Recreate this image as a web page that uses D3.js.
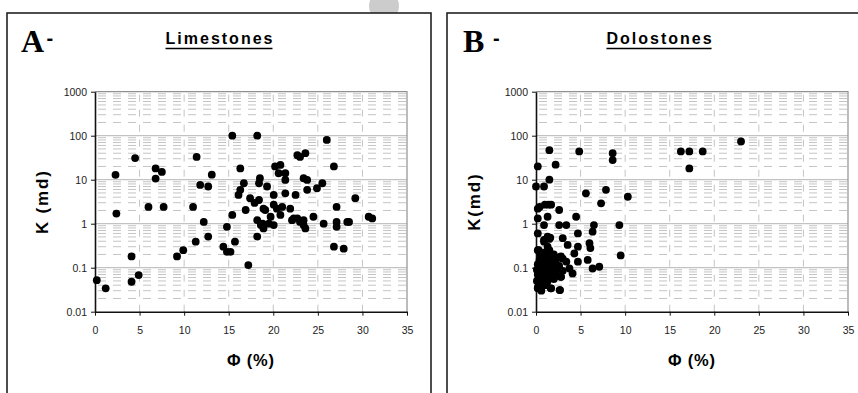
<!DOCTYPE html>
<html>
<head>
<meta charset="utf-8">
<script src="https://cdn.jsdelivr.net/npm/d3@7"></script>
<style>
  body { margin: 0; background: #fff; }
  svg { display: block; }
</style>
</head>
<body>
<div id="chart"></div>
<script>
// Limestones: porosity (%) and permeability (md)
const limestonePhi = [0.2, 1.2, 2.3, 2.4, 4.1, 4.1, 4.5, 4.9, 6.0, 6.8, 6.8, 7.5, 7.7, 9.2, 9.9,
  11.0, 11.3, 11.4, 11.8, 12.2, 12.7, 12.7, 13.1, 14.4, 14.8, 14.8, 15.2, 15.4, 15.4, 15.7,
  16.1, 16.3, 16.3, 16.7, 16.9, 17.2, 17.4, 17.9, 18.2, 18.2, 18.2, 18.4, 18.4, 18.5, 18.6,
  18.8, 18.9, 18.9, 19.1, 19.3, 19.5, 19.7, 20.05, 20.05, 20.05, 20.2, 20.4, 20.6, 20.8, 20.8,
  21.0, 21.35, 21.35, 21.35, 21.9, 22.1, 22.3, 22.5, 22.7, 22.7, 23.0, 23.0, 23.4, 23.4, 23.4,
  23.6, 23.6, 23.8, 23.8, 24.5, 24.9, 25.5, 25.65, 26.0, 26.8, 26.8, 27.1, 27.1, 27.1, 27.9,
  28.3, 28.5, 29.2, 30.7, 31.1];
const limestoneK = [0.052, 0.034, 12.9, 1.7, 0.18, 0.048, 31, 0.068, 2.4, 18, 10.6, 15, 2.4, 0.18, 0.25,
  2.4, 0.39, 33, 7.6, 1.1, 7, 0.51, 13, 0.3, 0.85, 0.23, 0.23, 100, 1.58, 0.39,
  4.5, 5.9, 18, 8.3, 2.05, 0.115, 3.8, 2.96, 100, 0.51, 1.2, 3.46, 8.3, 10.8, 0.93,
  1.0, 2.2, 0.78, 2.05, 7, 1.0, 1.44, 4.5, 2.7, 0.93, 20, 2.2, 14, 21.7, 1.58,
  2.4, 14, 9.9, 4.9, 2.2, 1.2, 1.32, 4.5, 36, 1.32, 33, 1.1, 1.2, 0.93, 10.8,
  40, 0.78, 9.9, 5.9, 1.44, 6.4, 8.3, 1.0, 80, 20, 0.3, 2.4, 1.1, 0.85, 0.27,
  1.1, 1.1, 3.8, 1.44, 1.32];

// Dolostones: porosity (%) and permeability (md)
const dolostonePhi = [0.2, 0.0, 0.9, 1.5, 2.2, 1.5, 4.85, 5.6, 8.6, 8.6, 7.85, 7.3, 10.3, 16.25, 17.2,
  18.7, 17.2, 23.0, 0.2, 0.4, 1.0, 1.4, 1.7, 2.6, 0.2, 1.3, 0.9, 2.6, 3.4, 4.5,
  6.5, 9.35, 0.2, 4.7, 6.35, 1.3, 1.6, 3.0, 0.9, 1.5, 3.55, 4.7, 6.0, 6.1, 4.3,
  0.2, 9.5, 5.8, 6.35, 7.1, 3.75, 4.1, 4.7, 3.0, 3.4, 2.8, 2.65, 1.65, 2.8, 0.2,
  1.3, 0.9, 0.1, 0.2, 0.1, 0.2, 0.3, 0.3, 0.4, 0.4, 0.4, 0.5, 0.5, 0.5, 0.6,
  0.6, 0.6, 0.7, 0.7, 0.8, 0.8, 0.8, 0.9, 0.9, 0.9, 1.0, 1.0, 1.1, 1.1, 1.2,
  1.2, 1.3, 1.3, 1.4, 1.5, 1.5, 1.6, 1.6, 1.7, 1.8, 1.8, 1.9, 2.0, 2.1, 2.2,
  2.3, 2.5, 2.5, 2.6, 2.7, 2.8, 3.0, 0.3, 0.8, 1.5, 0.2, 1.0, 2.0, 1.2, 0.6];
const dolostoneK = [20, 7, 7, 47, 22, 10, 44, 4.9, 40, 28, 5.9, 2.9, 4.1, 44, 44,
  44, 18, 74, 2.2, 2.4, 2.7, 2.7, 2.7, 2.05, 1.32, 1.44, 0.93, 0.93, 0.93, 1.44,
  0.93, 0.93, 0.6, 0.6, 0.66, 0.51, 0.48, 0.47, 0.43, 0.45, 0.33, 0.3, 0.36, 0.28, 0.21,
  0.25, 0.19, 0.15, 0.096, 0.105, 0.096, 0.074, 0.137, 0.16, 0.137, 0.18, 0.031, 0.034, 0.062, 0.034,
  0.3, 0.39, 0.05, 0.07, 0.09, 0.12, 0.04, 0.06, 0.08, 0.1, 0.15, 0.035, 0.055, 0.2, 0.07,
  0.11, 0.13, 0.045, 0.09, 0.06, 0.12, 0.16, 0.05, 0.08, 0.1, 0.04, 0.14, 0.065, 0.09, 0.11,
  0.18, 0.05, 0.075, 0.13, 0.1, 0.06, 0.085, 0.15, 0.034, 0.07, 0.12, 0.1, 0.055, 0.08, 0.14,
  0.095, 0.065, 0.17, 0.11, 0.031, 0.062, 0.085, 0.25, 0.22, 0.25, 0.035, 0.18, 0.2, 0.045, 0.03];

const xTicks = [0, 5, 10, 15, 20, 25, 30, 35];
const yTicks = [0.01, 0.1, 1, 10, 100, 1000];
const yTickLabels = ['0.01', '0.1', '1', '10', '100', '1000'];

const panels = [
  {letter: 'A', title: 'Limestones', yTitle: 'K (md)', phi: limestonePhi, k: limestoneK,
   frame: {x: 7, y: 13, w: 424}, plot: {left: 95, right: 407}, letterX: 21, dashX: 46.5, titleX: 220, yTitleX: 48},
  {letter: 'B', title: 'Dolostones', yTitle: 'K(md)', phi: dolostonePhi, k: dolostoneK,
   frame: {x: 447, y: 13, w: 430}, plot: {left: 536, right: 848}, letterX: 463, dashX: 493, titleX: 660, yTitleX: 480}
];

const plotTop = 91.7, plotBottom = 311.7;

const svg = d3.select('#chart').append('svg')
  .attr('width', 858)
  .attr('height', 393);

// faint grey blot behind the first frame
svg.append('circle')
  .attr('cx', 384).attr('cy', 6).attr('r', 15)
  .attr('fill', '#cccccc');

panels.forEach(function(p) {
  const g = svg.append('g');

  // frame
  g.append('rect')
    .attr('x', p.frame.x).attr('y', p.frame.y)
    .attr('width', p.frame.w).attr('height', 400)
    .attr('fill', '#fff')
    .attr('stroke', '#222')
    .attr('stroke-width', 1.6);

  const x = d3.scaleLinear().domain([0, 35]).range([p.plot.left, p.plot.right]);
  const y = d3.scaleLog().domain([0.01, 1000]).range([plotBottom, plotTop]);

  // minor horizontal grid (2..9 in each decade)
  const minor = [];
  yTicks.slice(0, -1).forEach(function(d) {
    for (let m = 2; m <= 9; m++) minor.push(d * m);
  });
  g.append('g').selectAll('line').data(minor).join('line')
    .attr('x1', p.plot.left).attr('x2', p.plot.right)
    .attr('y1', d => y(d)).attr('y2', d => y(d))
    .attr('stroke', '#c4c4c4')
    .attr('stroke-width', 1)
    .attr('stroke-dasharray', '8,7')
    .attr('stroke-dashoffset', -3);

  // major horizontal grid
  g.append('g').selectAll('line').data(yTicks.slice(1, -1)).join('line')
    .attr('x1', p.plot.left).attr('x2', p.plot.right)
    .attr('y1', d => y(d)).attr('y2', d => y(d))
    .attr('stroke', '#b4b4b4')
    .attr('stroke-width', 1);

  // vertical grid
  g.append('g').selectAll('line').data(xTicks.slice(1, -1)).join('line')
    .attr('x1', d => x(d)).attr('x2', d => x(d))
    .attr('y1', plotTop).attr('y2', plotBottom)
    .attr('stroke', '#c4c4c4')
    .attr('stroke-width', 1)
    .attr('stroke-dasharray', '7,8')
    .attr('stroke-dashoffset', -3);

  // top and right border of plot area
  g.append('path')
    .attr('d', `M${p.plot.left},${plotTop}H${p.plot.right}V${plotBottom}`)
    .attr('fill', 'none')
    .attr('stroke', '#909090')
    .attr('stroke-width', 1.2);

  // axes
  const yAxis = g.append('g')
    .attr('transform', `translate(${p.plot.left},0)`)
    .call(d3.axisLeft(y).tickValues(yTicks)
      .tickFormat((d, i) => yTickLabels[i])
      .tickSize(4).tickSizeOuter(0).tickPadding(4));
  const xAxis = g.append('g')
    .attr('transform', `translate(0,${plotBottom})`)
    .call(d3.axisBottom(x).tickValues(xTicks)
      .tickSize(4).tickSizeOuter(0).tickPadding(11));
  [yAxis, xAxis].forEach(function(a) {
    a.select('.domain').attr('stroke', '#111').attr('stroke-width', 1.6);
    a.selectAll('.tick line').attr('stroke', '#111');
    a.selectAll('text')
      .attr('fill', '#222')
      .style('font-family', 'Arial, "Liberation Sans", sans-serif')
      .style('font-size', '10.5px');
  });

  // points
  g.append('g').selectAll('circle').data(p.phi).join('circle')
    .attr('cx', d => x(d))
    .attr('cy', (d, i) => y(p.k[i]))
    .attr('r', 3.9)
    .attr('fill', '#000');

  // panel letter
  g.append('text')
    .attr('x', p.letterX).attr('y', 52)
    .text(p.letter)
    .style('font-family', '"Times New Roman", "Liberation Serif", serif')
    .style('font-weight', 'bold')
    .style('font-size', '32px');
  g.append('text')
    .attr('x', p.dashX).attr('y', 45)
    .text('-')
    .style('font-family', 'Arial, "Liberation Sans", sans-serif')
    .style('font-weight', 'bold')
    .style('font-size', '20px');

  // title with underline
  const t = g.append('text')
    .attr('x', p.titleX).attr('y', 44)
    .attr('text-anchor', 'middle')
    .text(p.title)
    .style('font-family', 'Arial, "Liberation Sans", sans-serif')
    .style('font-weight', 'bold')
    .style('font-size', '16px')
    .style('letter-spacing', '2px');
  const bb = t.node().getBBox();
  g.append('line')
    .attr('x1', bb.x).attr('x2', bb.x + bb.width - 2)
    .attr('y1', 48.5).attr('y2', 48.5)
    .attr('stroke', '#000')
    .attr('stroke-width', 1.6);

  // axis titles
  g.append('text')
    .attr('transform', `translate(${p.yTitleX},${(plotTop + plotBottom) / 2}) rotate(-90)`)
    .attr('text-anchor', 'middle')
    .text(p.yTitle)
    .style('font-family', 'Arial, "Liberation Sans", sans-serif')
    .style('font-weight', 'bold')
    .style('font-size', '17px')
    .style('letter-spacing', '1.8px');
  g.append('text')
    .attr('x', (p.plot.left + p.plot.right) / 2).attr('y', 366)
    .attr('text-anchor', 'middle')
    .text('Φ (%)')
    .style('font-family', 'Arial, "Liberation Sans", sans-serif')
    .style('font-weight', 'bold')
    .style('font-size', '16.5px')
    .style('letter-spacing', '0.8px');
});
</script>
</body>
</html>
